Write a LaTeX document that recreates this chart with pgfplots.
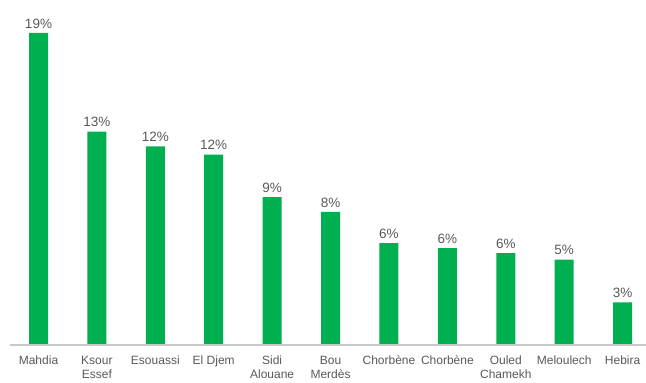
\documentclass[border=0pt]{standalone}
\usepackage{fontspec}
\setmainfont{Liberation Sans}
\usepackage{pgfplots}
\pgfplotsset{compat=1.18}
\definecolor{bargreen}{HTML}{00B050}
\definecolor{txtgray}{HTML}{595959}
\definecolor{axgray}{HTML}{C8C8C8}
\begin{document}
\begin{tikzpicture}
\begin{axis}[
  scale only axis,
  width=636bp, height=312bp,
  xmin=-0.488, xmax=10.40,
  ymin=0, ymax=19,
  axis line style={draw=none},
  hide y axis,
  ytick=\empty,
  xtick={0,...,10},
  xticklabels={Mahdia,{Ksour\\Essef},Esouassi,El Djem,{Sidi\\Alouane},{Bou\\Merdès},Chorbène,Chorbène,{Ouled\\Chamekh},Meloulech,Hebira},
  xtick style={draw=none},
  xticklabel style={align=center, text=txtgray, font=\fontsize{12bp}{14.5bp}\selectfont, yshift=-3bp},
  clip=false,
  enlargelimits=false,
  ybar,
  bar width=19bp,
  /pgf/number format/assume math mode=true,
  nodes near coords={\pgfmathprintnumber[fixed,precision=0,assume math mode=true]{\pgfplotspointmeta}\%},
  nodes near coords style={text=txtgray, font=\fontsize{13.5bp}{16bp}\selectfont, yshift=1bp},
]
\addplot[fill=bargreen, draw=none] coordinates {
(0,19.0) (1,13.0) (2,12.1) (3,11.6) (4,9.0) (5,8.1) (6,6.2) (7,5.9) (8,5.6) (9,5.2) (10,2.6)
};
\draw[axgray, line width=1.2bp] (rel axis cs:0,0) -- (rel axis cs:1,0);
\coordinate (bl) at (rel axis cs:0,0);
\coordinate (tr) at (rel axis cs:1,1);
\end{axis}
\pgfresetboundingbox
\path ([shift={(-10bp,-38bp)}]bl) rectangle ([shift={(0bp,33bp)}]tr);
\end{tikzpicture}
\end{document}
